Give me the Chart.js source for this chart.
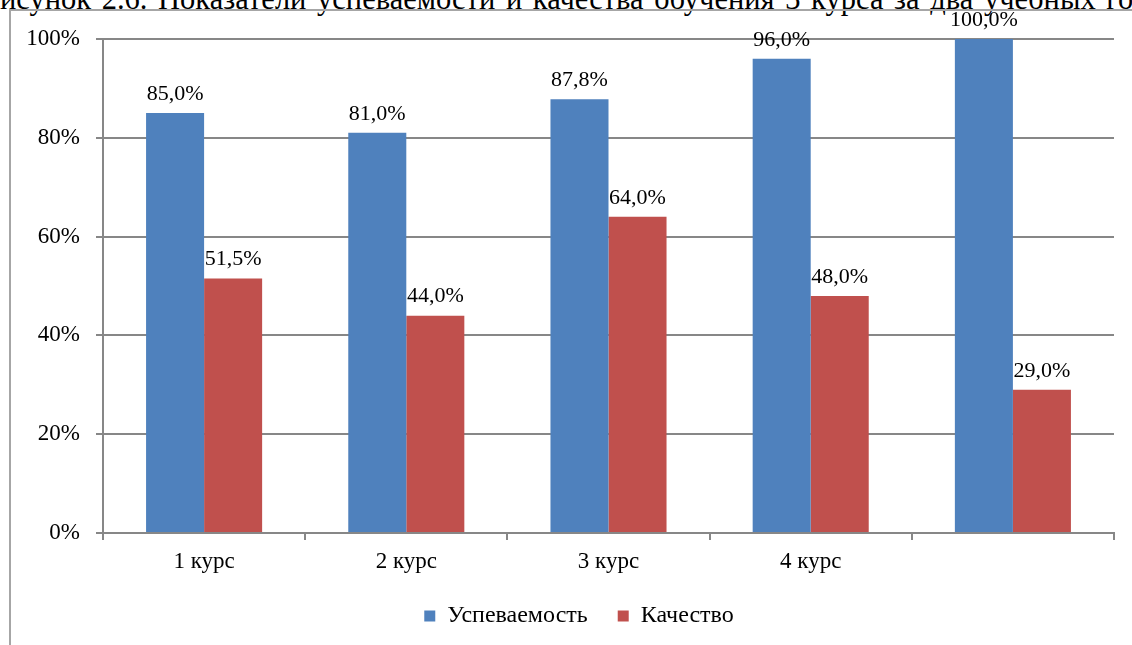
<!DOCTYPE html>
<html>
<head>
<meta charset="utf-8">
<script src="https://cdn.jsdelivr.net/npm/chart.js@4.4.1/dist/chart.umd.min.js"></script>
<style>
	html, body { margin: 0; padding: 0; background: #fff; overflow: hidden; }
	#wrap { position: relative; width: 1132px; height: 645px; overflow: hidden; }
	#caption { position: absolute; left: -17px; top: -16px; white-space: nowrap; font: 30.5px/30px "Liberation Serif", "Times New Roman", serif; word-spacing: 3px; color: #000; }
	#frame { position: absolute; left: 9px; top: 9px; width: 1140px; height: 660px; border-left: 2px solid #a6a6a6; border-top: 2px solid #a6a6a6; }
	#chart { position: absolute; left: 0; top: 0; }
</style>
</head>
<body>
<div id="wrap">
	<div id="caption">Рисунок 2.6. Показатели успеваемости и качества обучения 3 курса за два учебных года</div>
	<div id="frame"></div>
	<canvas id="chart" width="1132" height="645"></canvas>
</div>
<script>
var categories = ['1 курс', '2 курс', '3 курс', '4 курс', ''];
var seriesNames = ['Успеваемость', 'Качество'];
var progress = [85.0, 81.0, 87.8, 96.0, 100.0];
var quality = [51.5, 44.0, 64.0, 48.0, 29.0];
var yTicks = [0, 20, 40, 60, 80, 100];

var fontFamily = "'Liberation Serif', serif";
var gridColor = '#878787';

var formatValue = function(v) {
	return v.toFixed(1).replace('.', ',') + '%';
};

// value labels over the bars
var dataLabels = {
	id: 'dataLabels',
	afterDatasetsDraw: function(chart) {
		var ctx = chart.ctx;
		ctx.save();
		ctx.font = '22px ' + fontFamily;
		ctx.fillStyle = '#000';
		ctx.textAlign = 'center';
		ctx.textBaseline = 'bottom';
		chart.data.datasets.forEach(function(ds, i) {
			chart.getDatasetMeta(i).data.forEach(function(bar, j) {
				ctx.fillText(formatValue(ds.data[j]), bar.x, bar.y - 8);
			});
		});
		ctx.restore();
	}
};

// legend sits centred under the plot area, not the whole canvas
var legendShift = {
	id: 'legendShift',
	afterLayout: function(chart) {
		chart.legend.left += 44;
	}
};

Chart.defaults.font.family = fontFamily;
Chart.defaults.font.size = 23;
Chart.defaults.color = '#000';
Chart.defaults.plugins.legend.labels.font = { family: fontFamily, size: 24 };

var ctx = document.getElementById('chart');
var chart = new Chart(ctx, {
	type: 'bar',
	data: {
		labels: categories,
		datasets: [{
			label: seriesNames[0],
			data: progress,
			backgroundColor: '#4F81BD',
			borderWidth: 0
		}, {
			label: seriesNames[1],
			data: quality,
			backgroundColor: '#C0504D',
			borderWidth: 0
		}]
	},
	options: {
		responsive: false,
		animation: false,
		devicePixelRatio: 1,
		layout: { padding: { left: 0, top: 39, right: 18, bottom: 7 } },
		datasets: { bar: { categoryPercentage: 0.574, barPercentage: 1 } },
		plugins: {
			tooltip: { enabled: false },
			legend: {
				position: 'bottom',
				labels: { boxWidth: 11, boxHeight: 11, padding: 30, color: '#000', font: { family: fontFamily, size: 24 } }
			}
		},
		scales: {
			x: {
				afterFit: function(scale) { scale.height = 41; },
				grid: { offset: true, drawOnChartArea: false, drawTicks: true, tickLength: 7, color: gridColor, lineWidth: 2 },
				border: { color: gridColor, width: 2 },
				ticks: { padding: 8, color: '#000', font: { family: fontFamily, size: 23 } }
			},
			y: {
				min: 0,
				max: 100,
				afterFit: function(scale) { scale.width = 103; },
				afterBuildTicks: function(scale) {
					scale.ticks = yTicks.map(function(v) { return { value: v }; });
				},
				grid: { color: gridColor, lineWidth: 2, tickLength: 7 },
				border: { color: gridColor, width: 2 },
				ticks: {
					padding: 16,
					color: '#000',
					font: { family: fontFamily, size: 23 },
					callback: function(v) { return v + '%'; }
				}
			}
		}
	},
	plugins: [dataLabels, legendShift]
});
</script>
</body>
</html>
